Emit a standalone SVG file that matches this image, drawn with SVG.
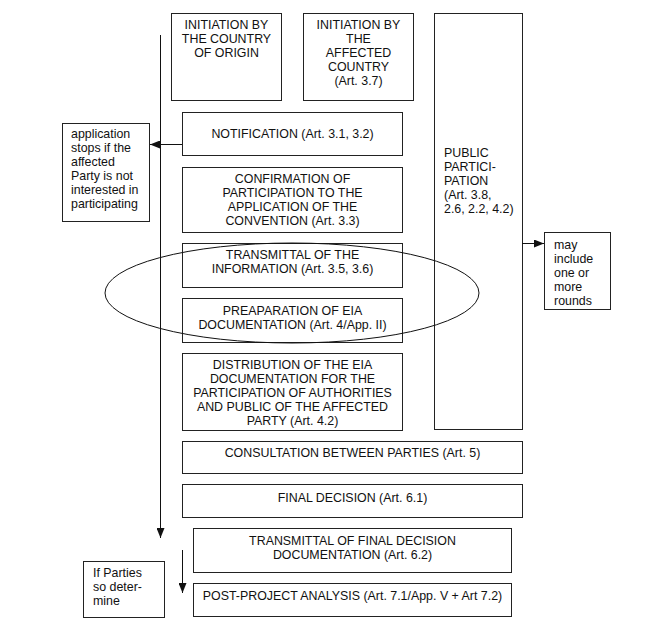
<svg xmlns="http://www.w3.org/2000/svg" width="667" height="641" viewBox="0 0 667 641">
<style>
.b{fill:#fff;stroke:#222;stroke-width:1}
.t{font-family:"Liberation Sans",Arial,sans-serif;font-size:12.4px;fill:#111}
.c{text-anchor:middle}
.l{stroke:#111;stroke-width:1;fill:none}
</style>
<defs>
<marker id="ah" markerWidth="10" markerHeight="8" refX="10" refY="4" orient="auto" markerUnits="userSpaceOnUse">
<path d="M0,0 L10,4 L0,8 Z" fill="#111"/>
</marker>
</defs>
<rect width="667" height="641" fill="#fff"/>
<g id="n1"><rect class="b" x="171.5" y="13.5" width="110" height="87"/>
<text class="t c" x="226.5"><tspan x="226.5" y="28.5">INITIATION BY</tspan><tspan x="226.5" y="42.5">THE COUNTRY</tspan><tspan x="226.5" y="56.5">OF ORIGIN</tspan></text></g>
<g id="n2"><rect class="b" x="303.5" y="13.5" width="110" height="87"/>
<text class="t c"><tspan x="358.5" y="28.5">INITIATION BY</tspan><tspan x="358.5" y="42.5">THE</tspan><tspan x="358.5" y="56.5">AFFECTED</tspan><tspan x="358.5" y="70.5">COUNTRY</tspan><tspan x="358.5" y="84.5">(Art. 3.7)</tspan></text></g>
<g id="n3"><rect class="b" x="182.5" y="112.5" width="220" height="43"/>
<text class="t c" x="292.5" y="138">NOTIFICATION (Art. 3.1, 3.2)</text></g>
<g id="n4"><rect class="b" x="62.5" y="123.5" width="87" height="98"/>
<text class="t"><tspan x="71" y="138">application</tspan><tspan x="71" y="152">stops if the</tspan><tspan x="71" y="166">affected</tspan><tspan x="71" y="180">Party is not</tspan><tspan x="71" y="194">interested in</tspan><tspan x="71" y="208">participating</tspan></text></g>
<g id="n5"><rect class="b" x="182.5" y="167.5" width="220" height="65"/>
<text class="t c"><tspan x="292.5" y="183">CONFIRMATION OF</tspan><tspan x="292.5" y="197">PARTICIPATION TO THE</tspan><tspan x="292.5" y="211">APPLICATION OF THE</tspan><tspan x="292.5" y="225">CONVENTION (Art. 3.3)</tspan></text></g>
<g id="n6"><rect class="b" x="182.5" y="243.5" width="220" height="44"/>
<text class="t c"><tspan x="292.5" y="259">TRANSMITTAL OF THE</tspan><tspan x="292.5" y="273">INFORMATION (Art. 3.5, 3.6)</tspan></text></g>
<g id="n7"><rect class="b" x="182.5" y="298.5" width="220" height="44"/>
<text class="t c"><tspan x="292.5" y="314.5">PREAPARATION OF EIA</tspan><tspan x="292.5" y="328.5">DOCUMENTATION (Art. 4/App. II)</tspan></text></g>
<g id="n8"><rect class="b" x="182.5" y="353.5" width="220" height="77"/>
<text class="t c"><tspan x="292.5" y="369">DISTRIBUTION OF THE EIA</tspan><tspan x="292.5" y="383">DOCUMENTATION FOR THE</tspan><tspan x="292.5" y="397">PARTICIPATION OF AUTHORITIES</tspan><tspan x="292.5" y="411">AND PUBLIC OF THE AFFECTED</tspan><tspan x="292.5" y="425">PARTY (Art. 4.2)</tspan></text></g>
<g id="n9"><rect class="b" x="434.5" y="13.5" width="88" height="416"/>
<text class="t"><tspan x="444" y="157">PUBLIC</tspan><tspan x="444" y="171">PARTICI-</tspan><tspan x="444" y="185">PATION</tspan><tspan x="444" y="199">(Art. 3.8,</tspan><tspan x="444" y="213">2.6, 2.2, 4.2)</tspan></text></g>
<g id="n10"><rect class="b" x="544.5" y="232.5" width="66" height="77"/>
<text class="t"><tspan x="554" y="249">may</tspan><tspan x="554" y="263">include</tspan><tspan x="554" y="277">one or</tspan><tspan x="554" y="291">more</tspan><tspan x="554" y="305">rounds</tspan></text></g>
<g id="n11"><rect class="b" x="182.5" y="441.5" width="340" height="32"/>
<text class="t c" x="352.5" y="457">CONSULTATION BETWEEN PARTIES (Art. 5)</text></g>
<g id="n12"><rect class="b" x="182.5" y="484.5" width="340" height="33"/>
<text class="t c" x="352.5" y="502">FINAL DECISION (Art. 6.1)</text></g>
<g id="n13"><rect class="b" x="193.5" y="528.5" width="318" height="44"/>
<text class="t c"><tspan x="352.5" y="545">TRANSMITTAL OF FINAL DECISION</tspan><tspan x="352.5" y="559">DOCUMENTATION (Art. 6.2)</tspan></text></g>
<g id="n14"><rect class="b" x="193.5" y="583.5" width="318" height="33"/>
<text class="t c" x="352.5" y="600">POST-PROJECT ANALYSIS (Art. 7.1/App. V + Art 7.2)</text></g>
<g id="n15"><rect class="b" x="83.5" y="561.5" width="81" height="56"/>
<text class="t"><tspan x="93" y="577">If Parties</tspan><tspan x="93" y="591">so deter-</tspan><tspan x="93" y="605">mine</tspan></text></g>
<g id="ellipse"><ellipse class="l" cx="292" cy="293" rx="187" ry="50"/></g>
<g id="connectors">
<line class="l" x1="160.5" y1="35" x2="160.5" y2="538" marker-end="url(#ah)"/>
<line class="l" x1="182" y1="144.5" x2="150" y2="144.5" marker-end="url(#ah)"/>
<line class="l" x1="522" y1="243.5" x2="544" y2="243.5" marker-end="url(#ah)"/>
<line class="l" x1="182.5" y1="550" x2="182.5" y2="593" marker-end="url(#ah)"/>
</g>
</svg>
